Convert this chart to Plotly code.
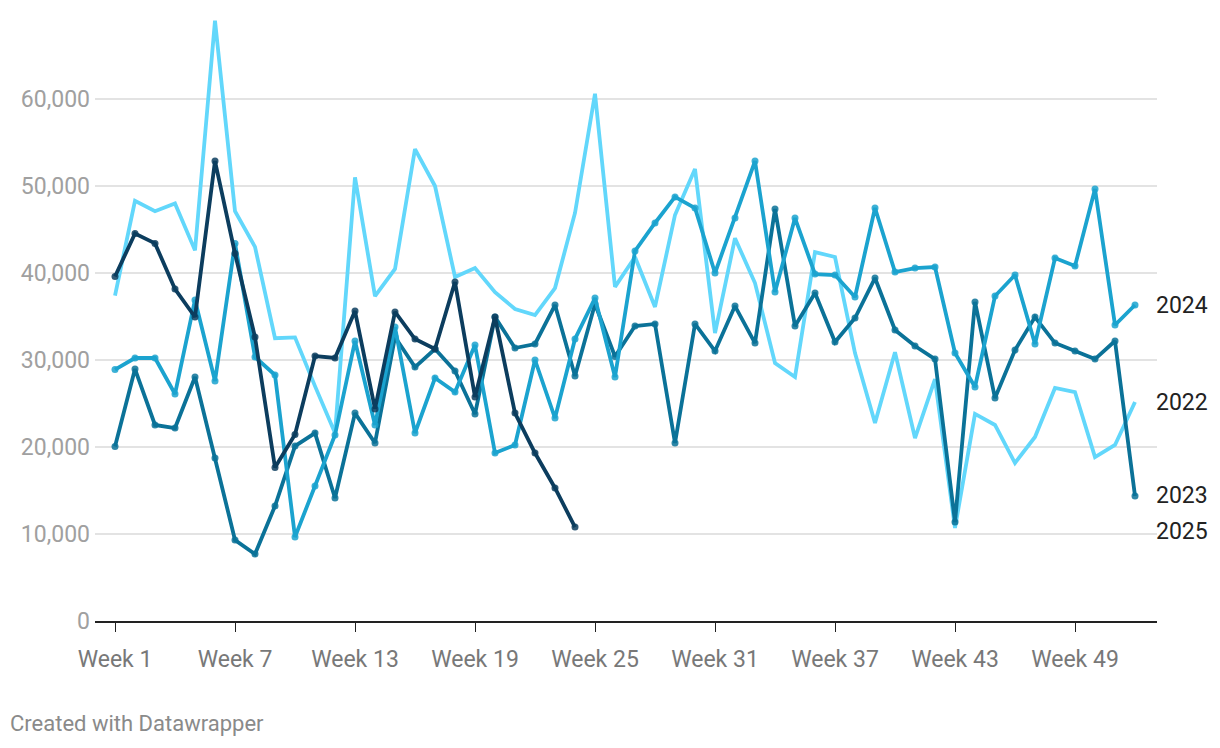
import plotly.graph_objects as go

weeks = list(range(1, 53))

y2022 = [37400, 48300, 47100, 48000, 42600, 69000, 47100, 43000, 32500, 32600,
         27000, 21600, 51000, 37350, 40460, 54250, 50000, 39540, 40570, 37800,
         35860, 35170, 38270, 46900, 60600, 38400, 41840, 36100, 46670, 51950,
         33100, 44000, 38850, 29650, 28050, 42400, 41840, 30800, 22760, 30900,
         21030, 27800, 10700, 23800, 22530, 18160, 21150, 26780, 26320, 18850,
         20230, 25170]

y2023 = [20050, 28960, 22530, 22180, 28050, 18740, 9310, 7700, 13220, 20110,
         21600, 14140, 23900, 20460, 32640, 29190, 31260, 28740, 23790, 34940,
         31380, 31840, 36320, 28160, 36440, 30400, 33900, 34140, 20460, 34140,
         31030, 36200, 31950, 47350, 33900, 37700, 32070, 34830, 39420, 33450,
         31600, 30110, 11380, 36670, 25630, 31150, 34940, 31950, 31030, 30110,
         32180, 14370]

y2024 = [28900, 30230, 30230, 26090, 36900, 27590, 43400, 30340, 28280, 9660,
         15520, 21380, 32180, 22530, 33790, 21610, 27930, 26320, 31720, 19310,
         20230, 30000, 23330, 32410, 37120, 28050, 42530, 45750, 48740, 47470,
         40000, 46320, 52870, 37810, 46320, 39880, 39770, 37240, 47470, 40110,
         40570, 40690, 30800, 26900, 37350, 39770, 31840, 41720, 40800, 49650,
         34020, 36320]

y2025 = [39600, 44540, 43400, 38160, 34940, 52870, 42240, 32640, 17650, 21440,
         30460, 30230, 35630, 24370, 35520, 32410, 31260, 38960, 25750, 34940,
         23900, 19310, 15290, 10800]

series = [
    ("2022", y2022, "#62d7fb", False, 0),
    ("2023", y2023, "#0b7298", True, 0),
    ("2024", y2024, "#1ba3cf", True, 0),
    ("2025", y2025, "#0c3d5e", True, -4),
]

tick_weeks = [1, 7, 13, 19, 25, 31, 37, 43, 49]
tick_text = [f"Week {w}" for w in tick_weeks]
y_ticks = [0, 10000, 20000, 30000, 40000, 50000, 60000]

fig = go.Figure()
for name, vals, color, markers, _ in series:
    fig.add_trace(go.Scatter(
        x=weeks[:len(vals)], y=vals, name=name,
        mode="lines+markers" if markers else "lines",
        line=dict(color=color, width=3.8),
        marker=dict(color=color, size=7, opacity=0.85),
        showlegend=False,
    ))

for name, vals, color, _, yshift in series:
    fig.add_annotation(
        x=52, y=vals[-1], xref="x", yref="y", text=name, showarrow=False,
        xanchor="left", yanchor="middle", xshift=19, yshift=yshift,
        font=dict(family="Roboto", size=23, color="#222222"),
    )

fig.add_annotation(
    x=-0.082, y=-0.168, xref="paper", yref="paper",
    text="Created with Datawrapper", showarrow=False,
    xanchor="left", yanchor="middle",
    font=dict(family="Roboto", size=22, color="#8a8a8a"),
)

fig.update_layout(
    width=1204, height=732,
    margin=dict(l=87, r=55, t=4, b=119),
    paper_bgcolor="white", plot_bgcolor="white",
    font=dict(family="Roboto"),
    xaxis=dict(
        range=[0, 53.1], tickvals=tick_weeks, ticktext=tick_text,
        showgrid=False, zeroline=False,
        showline=True, linecolor="#222222", linewidth=2,
        ticks="outside", ticklen=9, tickcolor="#222222", tickwidth=1,
        tickfont=dict(family="Roboto", size=23, color="#787878"),
        ticklabelstandoff=7,
    ),
    yaxis=dict(
        range=[0, 70000], tickvals=y_ticks, tickformat=",",
        showgrid=True, gridcolor="#e3e3e3", gridwidth=1.5,
        zeroline=False, showline=False, ticks="",
        tickfont=dict(family="Roboto", size=23, color="#a0a0a0"),
        ticklabelstandoff=4,
    ),
)

fig.write_html("out.html")
